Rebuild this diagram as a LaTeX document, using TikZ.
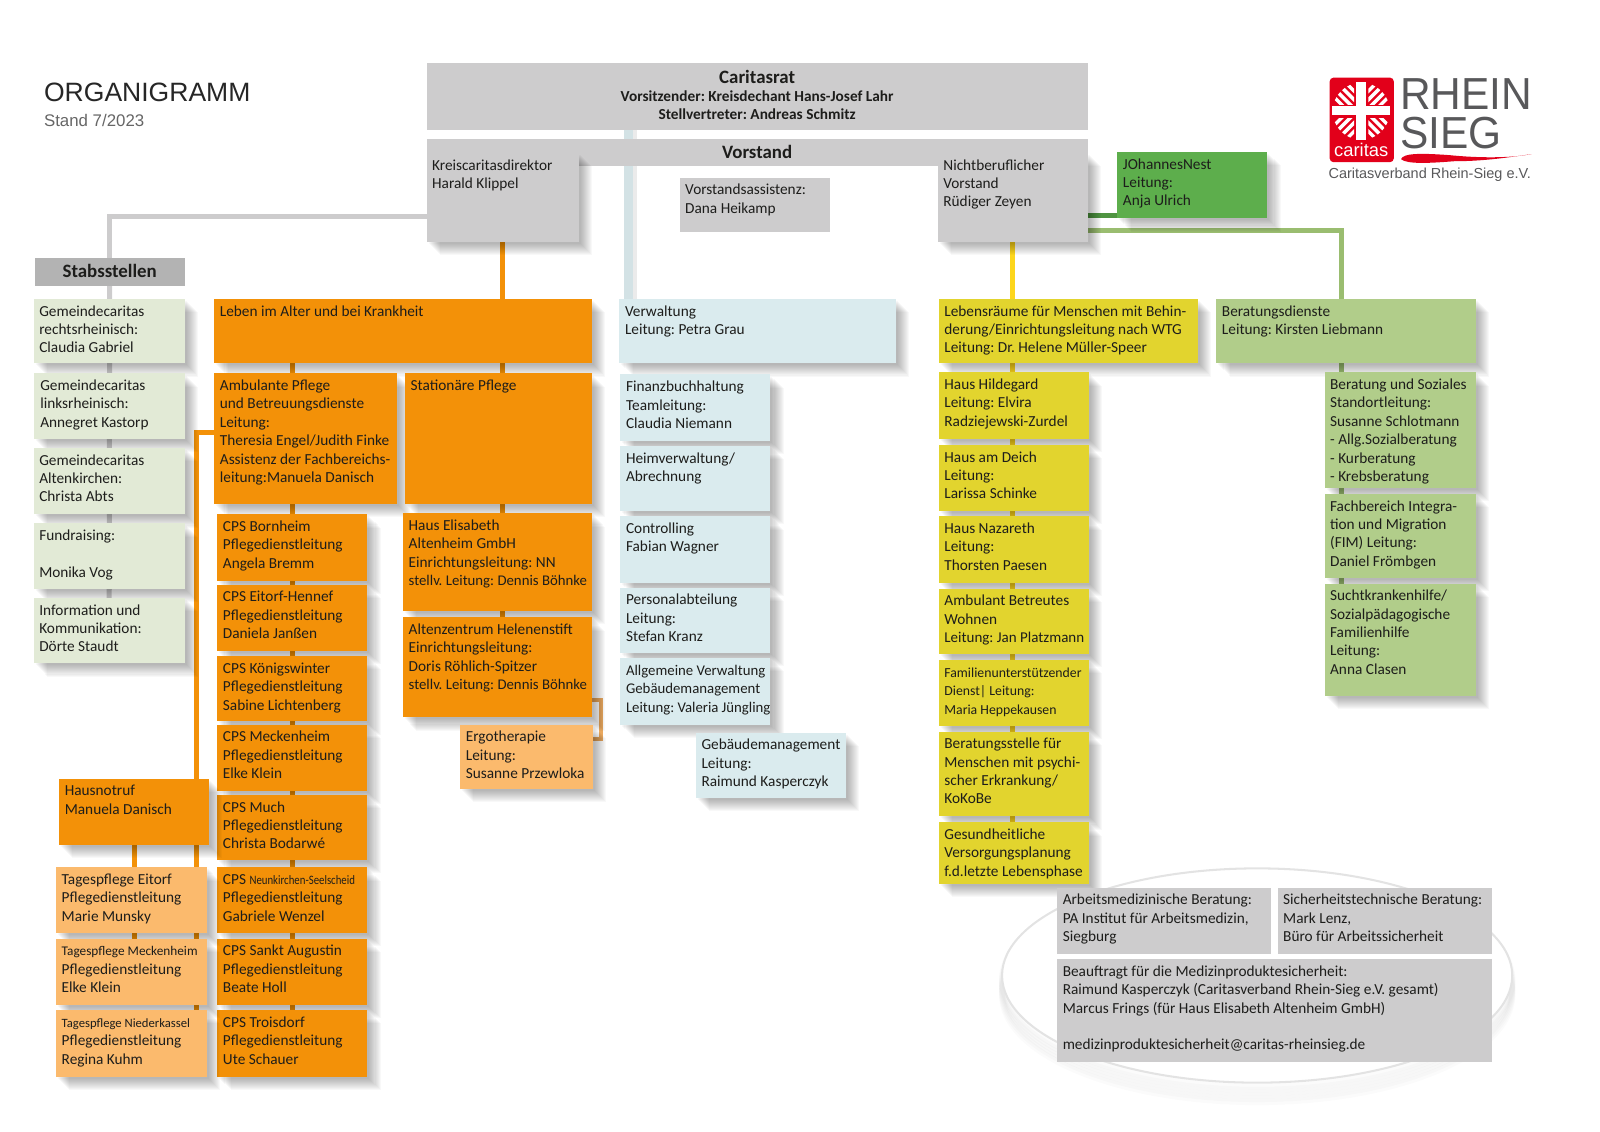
\documentclass[tikz,border=0pt]{standalone}
\usepackage{fontspec}
\setmainfont{Carlito}
\newfontfamily\arialf{Liberation Sans}
\usetikzlibrary{calc}
\pgfdeclarelayer{background}
\pgfsetlayers{background,main}
\definecolor{cGray}{HTML}{CDCCCD}
\definecolor{cStab}{HTML}{B3B3B3}
\definecolor{cSage}{HTML}{E2EAD6}
\definecolor{cOrange}{HTML}{F39108}
\definecolor{cPeach}{HTML}{FBBA6D}
\definecolor{cIce}{HTML}{DAEBEE}
\definecolor{cYellow}{HTML}{E2D42E}
\definecolor{cLeaf}{HTML}{B1CD8A}
\definecolor{cLeafLine}{HTML}{9ABD70}
\definecolor{cGreen}{HTML}{5DAE4C}
\definecolor{cInk}{HTML}{1D1D1B}
\definecolor{cLogo}{HTML}{58585A}
\definecolor{cRed}{HTML}{E2001A}
\tikzset{
 plain/.style={inner sep=0pt,outer sep=0pt,anchor=north west,text=cInk},
 sh/.style={preaction={draw=none,fill=black,fill opacity=.028,transform canvas={shift={(#1pt,-#1pt)}}}},
 shad/.style={sh=2,sh=3,sh=4,sh=5,sh=6,sh=7,sh=8,sh=9,sh=10,sh=11,sh=12,sh=13},
 gray/.style={plain,fill=cGray},
 grayS/.style={plain,shad,fill=cGray},
 stab/.style={plain,fill=cStab},
 sage/.style={plain,shad,fill=cSage},
 orange/.style={plain,shad,fill=cOrange},
 peach/.style={plain,shad,fill=cPeach},
 ice/.style={plain,shad,fill=cIce},
 yell/.style={plain,shad,fill=cYellow},
 leaf/.style={plain,shad,fill=cLeaf},
 greenB/.style={plain,shad,fill=cGreen},
 link/.style={line width=5pt},
 lgray/.style={link,draw=cGray},
 lorange/.style={link,draw=cOrange},
 lice/.style={line width=8pt,draw=cIce!92!gray},
 lyellow/.style={line width=4.5pt,draw=yellow!70!orange!90!white},
 lleaf/.style={link,draw=cLeafLine},
 lgreen/.style={link,draw=cGreen!85!black},
 lbrown/.style={line width=4pt,draw=cPeach!70!brown},
 logotxt/.style={inner sep=0pt,outer sep=0pt,text=cLogo}
}
\def\toppad{4.2pt}
\newcommand\bx[7]{%
 \pgfmathsetlengthmacro\bw{#4-#2}\pgfmathsetlengthmacro\bh{#5-#3}%
 \node[#6] (#1) at (#2pt,-#3pt) {\parbox[b][\bh][t]{\bw}{\fontsize{15}{18}\selectfont\frenchspacing\vspace*{\toppad}\raggedright\leftskip=5.5pt\strut #7\par}};}
\begin{document}
\begin{tikzpicture}[x=1pt,y=1pt]
\useasboundingbox (0,0) rectangle (1568,-1108.4);
% title
\node[anchor=west,inner sep=0pt,text=black!85] (title) at (43,-91) {\arialf\fontsize{26}{30}\selectfont ORGANIGRAMM};
\node[anchor=west,inner sep=0pt,text=black!60] (stand) at (43,-118) {\arialf\fontsize{16.5}{20}\selectfont Stand 7/2023};
% top
{\def\toppad{6.5pt}\bx{Rat}{418}{62}{1066}{127}{gray}{\centering\bfseries{\fontsize{18.5}{18}\selectfont Caritasrat}\\Vorsitzender: Kreisdechant Hans-Josef Lahr\\Stellvertreter: Andreas Schmitz}}
{\def\toppad{6pt}\bx{Vor}{418}{136}{1066}{163}{gray}{\centering\bfseries\fontsize{18.5}{18}\selectfont Vorstand}}
\bx{K}{418}{150}{567}{237}{grayS}{Kreiscaritasdirektor\\Harald Klippel}
\bx{Nb}{919}{150}{1066}{237}{grayS}{Nichtberuflicher\\Vorstand\\Rüdiger Zeyen}
\bx{As}{666}{174}{813}{227}{gray}{Vorstandsassistenz:\\Dana Heikamp}
\bx{Jo}{1095}{149}{1242}{214}{greenB}{JOhannesNest\\Leitung:\\Anja Ulrich}
% Stabsstellen
{\def\toppad{6pt}\bx{St}{34}{253}{181}{280}{stab}{\centering\bfseries\fontsize{18.5}{18}\selectfont Stabsstellen}}
\bx{S1}{33}{293}{181}{356}{sage}{Gemeindecaritas\\rechtsrheinisch:\\Claudia Gabriel}
\bx{S2}{33}{366}{181}{430}{sage}{\hspace*{1pt}Gemeindecaritas\\\hspace*{1pt}linksrheinisch:\\\hspace*{1pt}Annegret Kastorp}
\bx{S3}{33}{439}{181}{504}{sage}{Gemeindecaritas\\Altenkirchen:\\Christa Abts}
\bx{S4}{33}{513}{181}{577}{sage}{Fundraising:\\~\\Monika Vog}
\bx{S5}{33}{586}{181}{650}{sage}{Information und\\Kommunikation:\\Dörte Staudt}
% Leben im Alter
\bx{L}{210}{293}{580}{356}{orange}{Leben im Alter und bei Krankheit}
\bx{Amb}{210}{366}{389}{494}{orange}{Ambulante Pflege\\und Betreuungsdienste\\Leitung:\\Theresia Engel/Judith Finke\\Assistenz der Fachbereichs-\\leitung:Manuela Danisch}
\bx{Sta}{397}{366}{580}{494}{orange}{Stationäre Pflege}
\bx{C1}{213}{504}{360}{569}{orange}{CPS Bornheim\\Pflegedienstleitung\\Angela Bremm}
\bx{C2}{213}{573}{360}{638}{orange}{CPS Eitorf-Hennef\\Pflegedienstleitung\\Daniela Janßen}
\bx{C3}{213}{643}{360}{707}{orange}{CPS Königswinter\\Pflegedienstleitung\\Sabine Lichtenberg}
\bx{C4}{213}{710}{360}{775}{orange}{CPS Meckenheim\\Pflegedienstleitung\\Elke Klein}
\bx{C5}{213}{779}{360}{843}{orange}{CPS Much\\Pflegedienstleitung\\Christa Bodarwé}
\bx{C6}{213}{850}{360}{914}{orange}{CPS \scalebox{.84}[1]{\fontsize{12.6}{18}\selectfont Neunkirchen-Seelscheid}\\Pflegedienstleitung\\Gabriele Wenzel}
\bx{C7}{213}{920}{360}{985}{orange}{CPS Sankt Augustin\\Pflegedienstleitung\\Beate Holl}
\bx{C8}{213}{990}{360}{1055}{orange}{CPS Troisdorf\\Pflegedienstleitung\\Ute Schauer}
\bx{Hn}{58}{763}{205}{828}{orange}{Hausnotruf\\Manuela Danisch}
\bx{T1}{55}{850}{203}{914}{peach}{Tagespflege Eitorf\\Pflegedienstleitung\\Marie Munsky}
\bx{T2}{55}{920}{203}{985}{peach}{{\fontsize{13}{18}\selectfont Tagespflege Meckenheim}\\Pflegedienstleitung\\Elke Klein}
\bx{T3}{55}{990}{203}{1055}{peach}{{\fontsize{12.4}{18}\selectfont Tagespflege Niederkassel}\\Pflegedienstleitung\\Regina Kuhm}
\bx{E}{395}{503}{580}{599}{orange}{Haus Elisabeth\\Altenheim GmbH\\Einrichtungsleitung: NN\\{\fontsize{14.5}{18}\selectfont stellv. Leitung: Dennis Böhnke}}
\bx{He}{395}{605}{580}{703}{orange}{Altenzentrum Helenenstift\\Einrichtungsleitung:\\Doris Röhlich-Spitzer\\{\fontsize{14.5}{18}\selectfont stellv. Leitung: Dennis Böhnke}}
\bx{Er}{451}{710}{581}{773}{peach}{Ergotherapie\\Leitung:\\Susanne Przewloka}
% Verwaltung
\bx{V}{607}{293}{878}{356}{ice}{Verwaltung\\Leitung: Petra Grau}
\bx{V1}{608}{367}{755}{432}{ice}{Finanzbuchhaltung\\Teamleitung:\\Claudia Niemann}
\bx{V2}{608}{437}{755}{501}{ice}{Heimverwaltung/\\Abrechnung}
\bx{V3}{608}{506}{755}{571}{ice}{Controlling\\Fabian Wagner}
\bx{V4}{608}{576}{755}{640}{ice}{Personalabteilung\\Leitung:\\Stefan Kranz}
\bx{V5}{608}{645}{755}{710}{ice}{{\fontsize{14.5}{18}\selectfont Allgemeine Verwaltung\\Gebäudemanagement\\Leitung: Valeria Jüngling}}
\bx{V6}{682}{718}{829}{782}{ice}{Gebäudemanagement\\Leitung:\\Raimund Kasperczyk}
% Lebensraeume
\bx{Y}{920}{293}{1174}{356}{yell}{Lebensräume für Menschen mit Behin-\\derung/Einrichtungsleitung nach WTG\\Leitung: Dr. Helene Müller-Speer}
\bx{Y1}{920}{365}{1067}{430}{yell}{Haus Hildegard\\Leitung: Elvira\\Radziejewski-Zurdel}
\bx{Y2}{920}{436}{1067}{501}{yell}{Haus am Deich\\Leitung:\\Larissa Schinke}
\bx{Y3}{920}{506}{1067}{571}{yell}{Haus Nazareth\\Leitung:\\Thorsten Paesen}
\bx{Y4}{920}{577}{1067}{641}{yell}{Ambulant Betreutes\\Wohnen\\{\fontsize{14.7}{18}\selectfont Leitung: Jan Platzmann}}
\bx{Y5}{920}{647}{1067}{711}{yell}{{\fontsize{13.5}{18}\selectfont Familienunterstützender\\Dienst| Leitung:\\Maria Heppekausen}}
\bx{Y6}{920}{717}{1067}{800}{yell}{Beratungsstelle für\\Menschen mit psychi-\\scher Erkrankung/\\KoKoBe}
\bx{Y7}{920}{806}{1067}{866}{yell}{Gesundheitliche\\Versorgungsplanung\\f.d.letzte Lebensphase}
% Beratungsdienste
\bx{B}{1192}{293}{1446}{356}{leaf}{Beratungsdienste\\Leitung: Kirsten Liebmann}
\bx{B1}{1298}{365}{1446}{478}{leaf}{Beratung und Soziales\\Standortleitung:\\Susanne Schlotmann\\- Allg.Sozialberatung\\- Kurberatung\\- Krebsberatung}
\bx{B2}{1298}{484}{1446}{566}{leaf}{Fachbereich Integra-\\tion und Migration\\(FIM) Leitung:\\Daniel Frömbgen}
\bx{B3}{1298}{572}{1446}{682}{leaf}{Suchtkrankenhilfe/\\Sozialpädagogische\\Familienhilfe\\Leitung:\\Anna Clasen}
% bottom
\bx{G1}{1036}{870}{1246}{935}{gray}{Arbeitsmedizinische Beratung:\\PA Institut für Arbeitsmedizin,\\Siegburg}
\bx{G2}{1252}{870}{1462}{935}{gray}{Sicherheitstechnische Beratung:\\Mark Lenz,\\Büro für Arbeitssicherheit}
\bx{G3}{1036}{940}{1462}{1041}{gray}{Beauftragt für die Medizinproduktesicherheit:\\Raimund Kasperczyk (Caritasverband Rhein-Sieg e.V. gesamt)\\Marcus Frings (für Haus Elisabeth Altenheim GmbH)\\~\\medizinproduktesicherheit@caritas-rheinsieg.de}
% connectors
\coordinate (ya) at (0,-212);
\coordinate (xb) at (616,-130);
\coordinate (xc) at (1315,-226);
\coordinate (xd) at (193,-424);
\coordinate (xe) at (132,-830);
\coordinate (yg) at (0,-686);
\coordinate (yh) at (0,-724);
\coordinate (xi) at (589,0);
\begin{pgfonlayer}{background}
 \foreach \s in {4,7,10,13,16,19}{
  \draw[line width=6pt,black,opacity=.014] (1232,-956-\s) ellipse [x radius=250,y radius=105];}
 \draw[line width=2pt,draw=black!11,fill=white] (1232,-956) ellipse [x radius=250,y radius=105];
 \draw[lgray] (K.west |- ya) -| (St.north);
 \draw[lgray] (St.south) -- (S5.north);
 \draw[line width=8pt,draw=black!8] ($(Rat.south -| xb)+(4,0)$) -- ($(V.north -| xb)+(4,0)$);
 \draw[lice] (Rat.south -| xb) -- (V.north -| xb);
 \draw[lorange] (K.south) -- (K.south |- He.north);
 \draw[lorange] (L.south -| C1.north) -- (C8.north);
 \draw[lorange] (Amb.west |- xd) -- (xd) -- (T3.north -| xd);
 \draw[lorange] (Hn.south -| xe) -- (T2.north -| xe);
 \draw[lbrown] (He.east |- yg) -- (xi |- yg) -- (xi |- yh) -- (Er.east |- yh);
 \draw[lyellow] (Nb.south) -- (Y7.north -| Nb.south);
 \draw[lleaf] (Nb.east |- xc) -- (xc) -- (B3.north -| xc);
 \draw[lgreen] (Nb.east |- Jo.south) ++(0,2.5) -- ($(Jo.south west)+(0,2.5)$);
\end{pgfonlayer}
% logo
\begin{scope}[xshift=1pt]
\fill[cRed,rounded corners=4pt] (1302,-76) rectangle (1365,-159);
 \foreach \sx/\sy in {1/1,-1/1,1/-1,-1/-1}{
 \begin{scope}[shift={(1333,-109)},xscale=\sx,yscale=\sy]
  \clip (7,7) rectangle (30,30);
  \clip (0,0) circle (28);
  \foreach \d in {-9,-3,3,9}{\draw[white,line width=3.4pt] ($(16,16)+(\d*.707,-\d*.707)+(-14,-14)$) -- ($(16,16)+(\d*.707,-\d*.707)+(14,14)$);}
 \end{scope}}
 \fill[white] (1328,-80) rectangle (1338,-137);
 \fill[white] (1304,-104) rectangle (1361,-113);
\end{scope}
\node[logotxt,text=white] (caritas) at (1334,-147) {\arialf\fontsize{18}{20}\selectfont caritas};
\node[logotxt,anchor=west] (rhein) at (1372,-92) {\scalebox{.945}[1]{\arialf\fontsize{44}{40}\selectfont RHEIN}};
\node[logotxt,anchor=west] (sieg) at (1372,-130) {\scalebox{.945}[1]{\arialf\fontsize{44}{40}\selectfont SIEG}};
\node[logotxt,anchor=west] (verband) at (1302,-171) {\arialf\fontsize{14.2}{16}\selectfont Caritasverband Rhein-Sieg e.V.};
\fill[cRed] (1373,-156) .. controls (1375,-150) and (1392,-150) .. (1420,-152) .. controls (1450,-155) and (1480,-155) .. (1501,-151) .. controls (1480,-154) and (1455,-158) .. (1425,-158) .. controls (1400,-160) and (1379,-161) .. (1373,-156) -- cycle;
\end{tikzpicture}
\end{document}
